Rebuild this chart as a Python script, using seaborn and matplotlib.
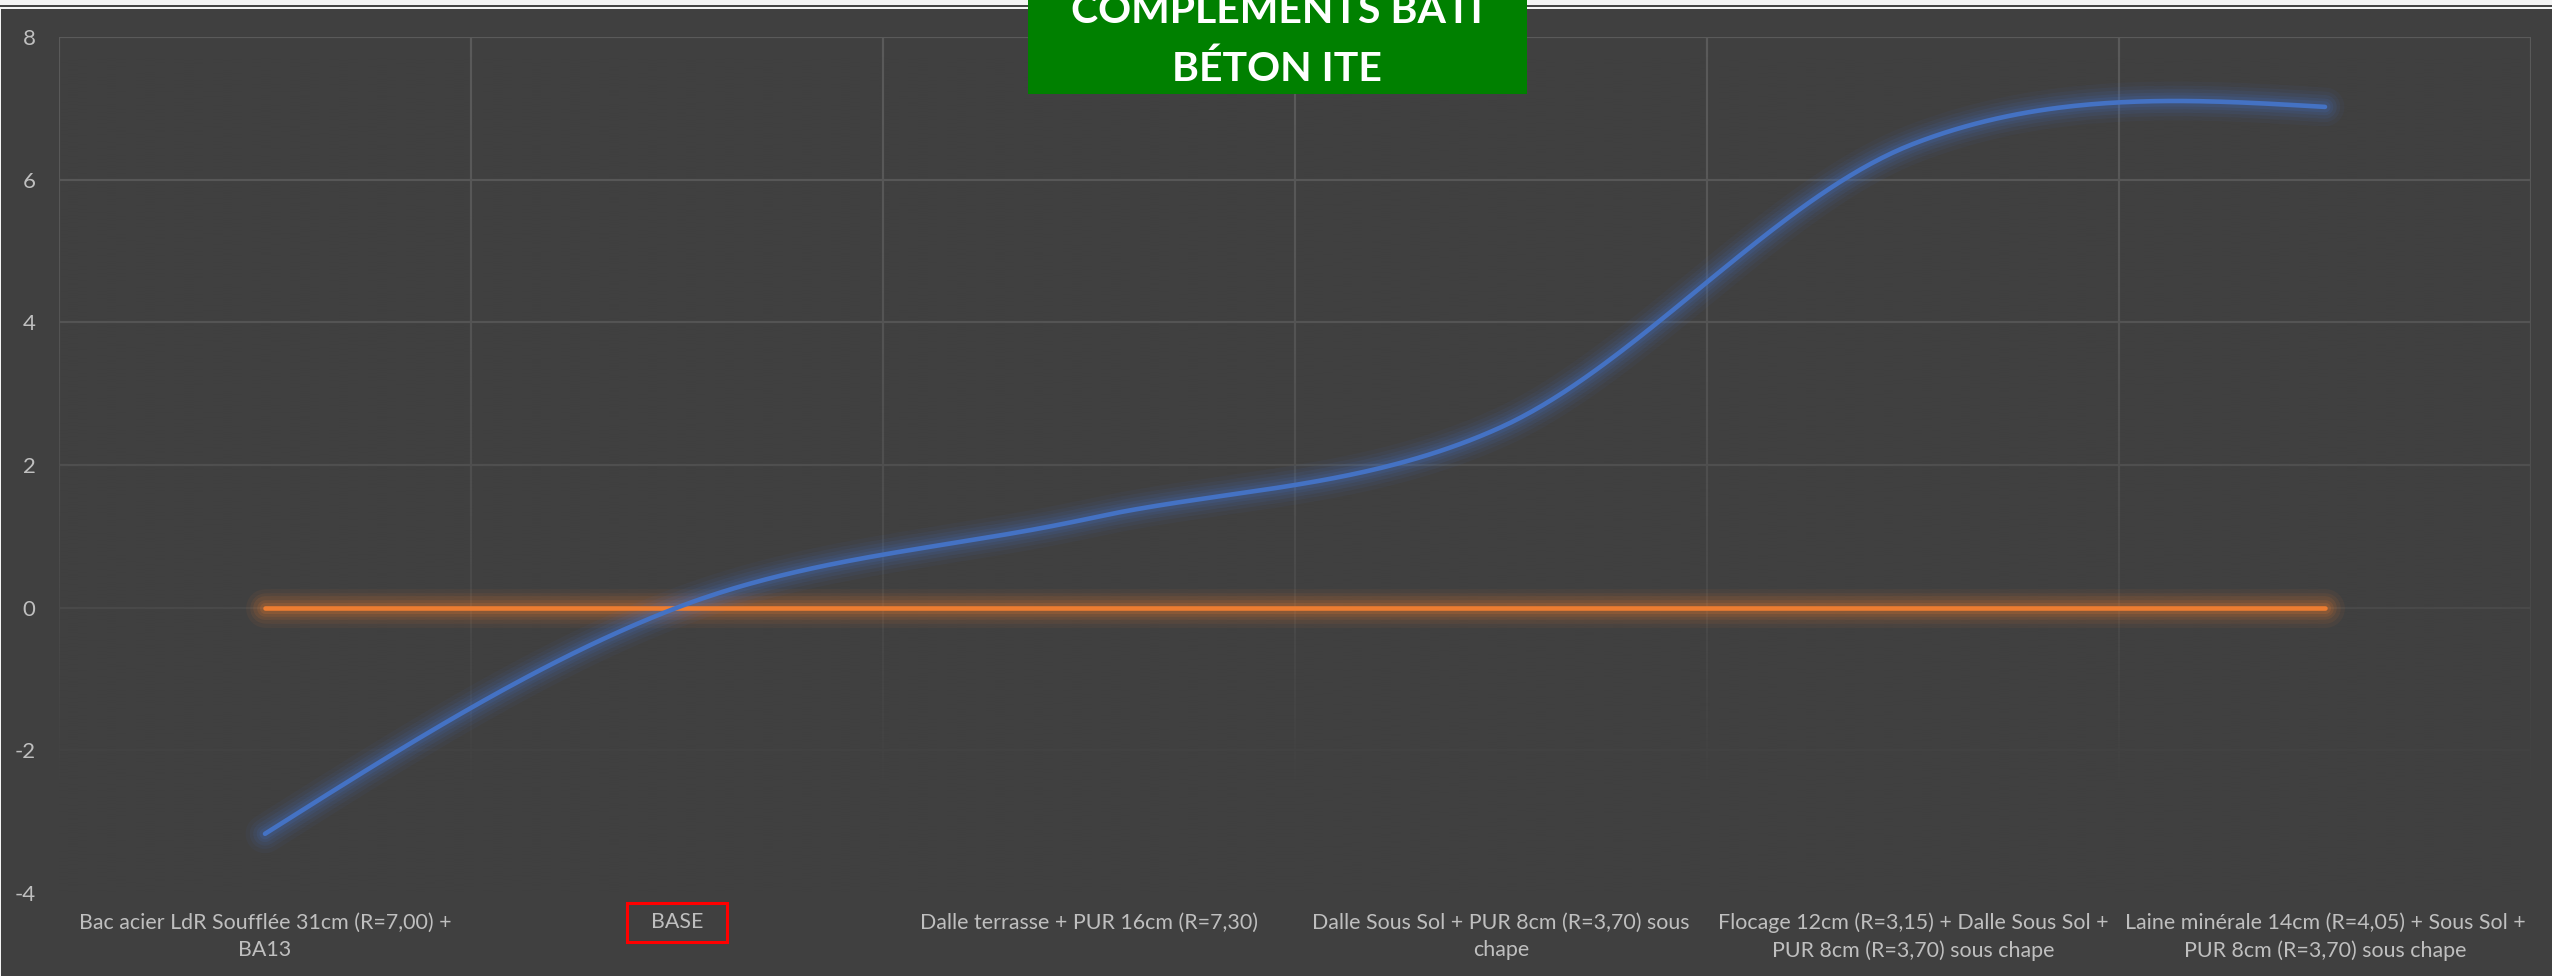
import numpy as np
import pandas as pd
import matplotlib
matplotlib.use("Agg")
import matplotlib.pyplot as plt
from matplotlib.path import Path
from matplotlib.patches import Rectangle
import seaborn as sns

# ---- data -------------------------------------------------------------
categories = [
    "Bac acier LdR Soufflée 31cm (R=7,00) +\nBA13",
    "BASE",
    "Dalle terrasse + PUR 16cm (R=7,30)",
    "Dalle Sous Sol + PUR 8cm (R=3,70) sous\nchape",
    "Flocage 12cm (R=3,15) + Dalle Sous Sol +\nPUR 8cm (R=3,70) sous chape",
    "Laine minérale 14cm (R=4,05) + Sous Sol +\nPUR 8cm (R=3,70) sous chape",
]
gain = [-3.17, 0.0, 1.25, 2.53, 6.5, 7.02]
base = [0.0, 0.0, 0.0, 0.0, 0.0, 0.0]
y_ticks = [-4, -2, 0, 2, 4, 6, 8]
title_lines = ["COMPLEMENTS BATI", "BÉTON ITE"]

BG = "#404040"
GRID = "#5a5a5a"
LABEL = "#bfbfbf"
BLUE = "#4472C4"
ORANGE = "#ED7D31"

W, H, DPI = 2552, 976, 100


def smooth_curve(values, n=80):
    """Piecewise cubic Bezier through the points (spreadsheet-style smoothing)."""
    P = np.column_stack([np.arange(len(values), dtype=float),
                         np.asarray(values, dtype=float)])
    k = len(P)
    parts = []
    for i in range(k - 1):
        p0, p3 = P[i], P[i + 1]
        c1 = p0 + (P[i + 1] - P[i - 1]) / 6 if i > 0 else None
        c2 = p3 - (P[i + 2] - P[i]) / 6 if i + 2 < k else None
        if c1 is None:
            c1 = (p0 + c2) / 2
        if c2 is None:
            c2 = (p3 + c1) / 2
        t = np.linspace(0, 1, n)[:, None]
        seg = ((1 - t) ** 3 * p0 + 3 * (1 - t) ** 2 * t * c1
               + 3 * (1 - t) * t ** 2 * c2 + t ** 3 * p3)
        parts.append(seg if i == 0 else seg[1:])
    pts = np.vstack(parts)
    return pd.DataFrame({"x": pts[:, 0], "y": pts[:, 1]})


sns.set_theme(style="dark", rc={
    "figure.facecolor": BG,
    "axes.facecolor": BG,
    "axes.unicode_minus": False,
})
plt.rcParams["font.family"] = ["Lato", "DejaVu Sans"]

fig = plt.figure(figsize=(W / DPI, H / DPI), dpi=DPI)
ax = fig.add_axes([59 / W, 1 - 893 / H, (2531 - 59) / W, (893 - 37) / H])
ax.set_facecolor(BG)
for s in ax.spines.values():
    s.set_visible(False)

# gridlines fade out towards the bottom of the plot area
ax.set_axisbelow(True)
ax.set_yticks(y_ticks)
ax.set_xticks(range(len(categories)))
ax.set_xticks(np.arange(-0.5, len(categories), 1.0), minor=True)
ax.grid(True, which="major", axis="y", color=GRID, lw=1.6)
ax.grid(True, which="minor", axis="x", color=GRID, lw=1.6)
ax.grid(False, which="major", axis="x")

f = np.linspace(0, 1, 512)
alpha = np.clip(f / 0.886, 0, 1) ** 1.5
fade = np.zeros((512, 1, 4))
fade[..., :3] = matplotlib.colors.to_rgb(BG)
fade[:, 0, 3] = alpha
ax.imshow(fade, extent=[0, 1, 0, 1], transform=ax.transAxes, aspect="auto",
          zorder=1, interpolation="bilinear")

# series with a soft glow
for values, color in [(base, ORANGE), (gain, BLUE)]:
    df = smooth_curve(values)
    for lw, a in [(28, 0.06), (22, 0.08), (17, 0.10), (12, 0.12), (8, 0.16)]:
        sns.lineplot(data=df, x="x", y="y", ax=ax, color=color, lw=lw,
                     alpha=a, sort=False, estimator=None, zorder=3,
                     solid_capstyle="round")
    sns.lineplot(data=df, x="x", y="y", ax=ax, color=color, lw=3.3,
                 sort=False, estimator=None, zorder=4,
                 solid_capstyle="round")

ax.set_xlim(-0.5, len(categories) - 0.5)
ax.set_ylim(min(y_ticks), max(y_ticks))
ax.set_xlabel("")
ax.set_ylabel("")
ax.set_yticklabels([str(v) for v in y_ticks])
ax.set_xticklabels(categories, linespacing=1.45)
ax.tick_params(axis="y", which="both", length=0, pad=17,
               labelcolor=LABEL, labelsize=16)
ax.tick_params(axis="x", which="both", length=0, pad=14,
               labelcolor=LABEL, labelsize=15.4)


def wide_box(x0, y0, width, height, mutation_size):
    px, py = 1.1 * mutation_size, 0.46 * mutation_size
    return Path([(x0 - px, y0 - py), (x0 + width + px, y0 - py),
                 (x0 + width + px, y0 + height + py), (x0 - px, y0 + height + py),
                 (x0 - px, y0 - py)],
                [Path.MOVETO, Path.LINETO, Path.LINETO, Path.LINETO,
                 Path.CLOSEPOLY])


base_label = ax.get_xticklabels()[categories.index("BASE")]
base_label.set_bbox(dict(boxstyle=wide_box, facecolor="none",
                         edgecolor="#ff0000", lw=2.2))

# window-like top border
fig.patches.append(Rectangle((0, 1 - 8.7 / H), 1, 8.7 / H, transform=fig.transFigure,
                             facecolor="#f4f4f4", edgecolor="none", zorder=5))
fig.patches.append(Rectangle((0, 1 - 6.7 / H), 1, 2.0 / H, transform=fig.transFigure,
                             facecolor="#454545", edgecolor="none", zorder=6))
fig.patches.append(Rectangle((0, 0), 1.2 / W, 1, transform=fig.transFigure,
                             facecolor="#f4f4f4", edgecolor="none", zorder=5))

# title banner
fig.patches.append(Rectangle((1028 / W, 1 - 94 / H), (1527 - 1028) / W, 94 / H + 0.01,
                             transform=fig.transFigure, facecolor="#008000",
                             edgecolor="none", zorder=10))
fig.text(1277 / W, 1 - 23 / H, title_lines[0], ha="center", va="baseline",
         fontsize=29.5, fontweight="bold", color="white", zorder=11)
fig.text(1277 / W, 1 - 81 / H, title_lines[1], ha="center", va="baseline",
         fontsize=29.5, fontweight="bold", color="white", zorder=11)

fig.savefig("out.png", dpi=DPI, facecolor=BG)
